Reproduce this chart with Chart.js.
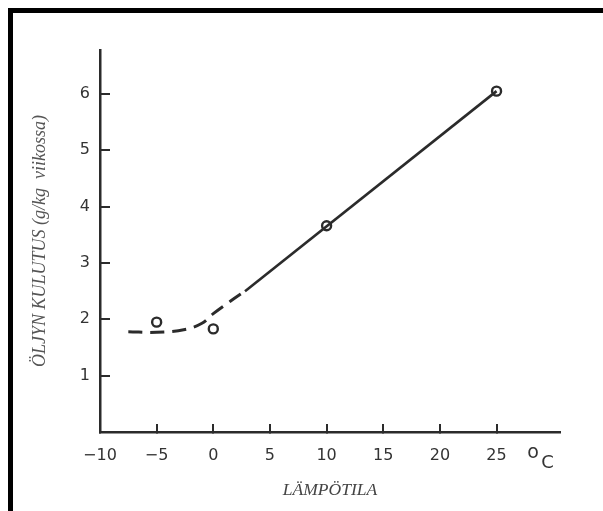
<!DOCTYPE html>
<html>
<head>
<meta charset="utf-8">
<script src="https://cdn.jsdelivr.net/npm/chart.js@4"></script>
<style>
  html, body { margin: 0; padding: 0; background: #fff; overflow: hidden; }
  #wrap { position: relative; width: 603px; height: 511px; }
  #frame { position: absolute; left: 8px; top: 8px; width: 700px; height: 700px;
           border-left: 5px solid #000; border-top: 5px solid #000; pointer-events: none; }
  canvas { position: absolute; left: 0; top: 0; }
</style>
</head>
<body>
<div id="wrap">
  <canvas id="chart" width="603" height="511"></canvas>
  <div id="frame"></div>
</div>
<script>
// measured points (open circles)
const measuredTemps = [-5, 0, 10, 25]
const measuredUse = [1.95, 1.83, 3.66, 6.05]
// dashed curve at low temperatures
const dashTemps = [-7.5, -5, -2.5, -1, 0, 1.5, 2.8]
const dashUse = [1.78, 1.77, 1.82, 1.93, 2.1, 2.32, 2.5]
// solid straight part
const solidTemps = [2.8, 25]
const solidUse = [2.5, 6.05]
// axis ticks
const xTickValues = [-10, -5, 0, 5, 10, 15, 20, 25]
const yTickValues = [1, 2, 3, 4, 5, 6]

const ink = '#2b2b2b'
const toXY = (xs, ys) => xs.map((x, i) => ({ x: x, y: ys[i] }))

const unitLabel = {
    id: 'unitLabel',
    afterDraw(chart) {
        const ctx = chart.ctx
        const xs = chart.scales.x
        const px = xs.getPixelForValue(29.2)
        const py = xs.top
        ctx.save()
        ctx.fillStyle = '#333'
        ctx.textBaseline = 'alphabetic'
        ctx.textAlign = 'left'
        ctx.font = '19px "DejaVu Sans"'
        ctx.fillText('o', px - 17, py + 26)
        ctx.font = '18px "DejaVu Sans"'
        ctx.fillText('C', px - 3, py + 36)
        ctx.restore()
    }
}

new Chart(document.getElementById('chart'), {
    type: 'scatter',
    data: {
        datasets: [
            {
                data: toXY(dashTemps, dashUse),
                showLine: true,
                borderColor: ink,
                borderWidth: 3,
                borderDash: [14, 8],
                tension: 0.4,
                pointRadius: 0,
                fill: false
            },
            {
                data: toXY(solidTemps, solidUse),
                showLine: true,
                borderColor: ink,
                borderWidth: 2.6,
                pointRadius: 0,
                fill: false
            },
            {
                data: toXY(measuredTemps, measuredUse),
                showLine: false,
                pointRadius: 4.5,
                pointBorderWidth: 2.4,
                pointBorderColor: ink,
                pointBackgroundColor: '#fff'
            }
        ]
    },
    options: {
        responsive: false,
        animation: false,
        events: [],
        layout: { padding: { top: 50, right: 43, left: 0, bottom: 0 } },
        plugins: {
            legend: { display: false },
            tooltip: { enabled: false }
        },
        scales: {
            x: {
                type: 'linear',
                min: -10,
                max: 30.6,
                afterBuildTicks: s => { s.ticks = xTickValues.map(v => ({ value: v })) },
                afterFit: s => { s.height = 79 },
                ticks: {
                    padding: 22,
                    color: '#333',
                    font: { family: 'DejaVu Sans', size: 16 },
                    maxRotation: 0,
                    callback: v => v < 0 ? '\u2212' + Math.abs(v) : String(v)
                },
                grid: {
                    drawOnChartArea: false,
                    drawTicks: true,
                    tickLength: -8,
                    color: ink,
                    lineWidth: 2
                },
                border: { display: true, color: ink, width: 2.5 },
                title: {
                    display: true,
                    text: 'LÄMPÖTILA',
                    color: '#444',
                    font: { family: 'Liberation Serif', size: 17.5, style: 'italic' },
                    padding: { bottom: 10, top: 0 }
                }
            },
            y: {
                type: 'linear',
                min: 0,
                max: 6.78,
                afterBuildTicks: s => { s.ticks = yTickValues.map(v => ({ value: v })) },
                afterFit: s => { s.width = 100 },
                ticks: {
                    padding: 20,
                    color: '#333',
                    font: { family: 'DejaVu Sans', size: 16 }
                },
                grid: {
                    drawOnChartArea: false,
                    drawTicks: true,
                    tickLength: -10,
                    color: ink,
                    lineWidth: 2
                },
                border: { display: true, color: ink, width: 2.5 },
                title: {
                    display: true,
                    text: 'ÖLJYN KULUTUS (g/kg  viikossa)',
                    color: '#555',
                    font: { family: 'Liberation Serif', size: 18, style: 'italic' },
                    padding: { top: 29, bottom: 0 }
                }
            }
        }
    },
    plugins: [unitLabel]
})
</script>
</body>
</html>
